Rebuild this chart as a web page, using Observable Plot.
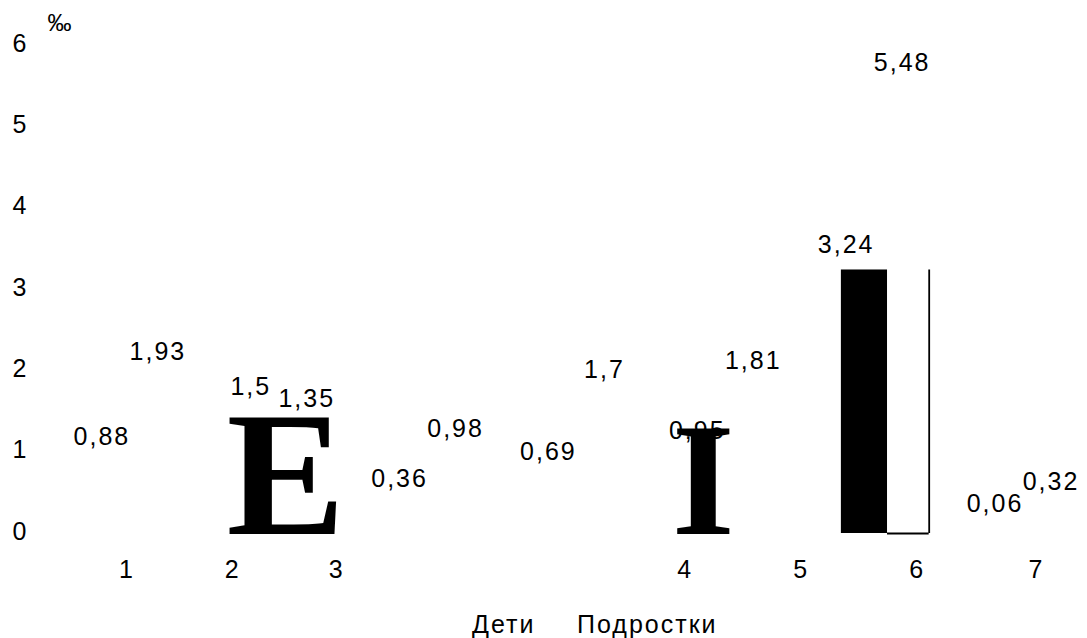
<!DOCTYPE html>
<html>
<head>
<meta charset="utf-8">
<script src="https://cdn.jsdelivr.net/npm/d3@7"></script>
<script src="https://cdn.jsdelivr.net/npm/@observablehq/plot@0.6"></script>
<style>
  body { margin: 0; background: #fff; }
  svg { display: block; }
  svg text { letter-spacing: 2px; }
  #legend { position: relative; height: 38px; font-family: "Liberation Sans", Arial, sans-serif;
            font-size: 25px; letter-spacing: 2px; color: #000; line-height: 25px; }
  #legend span { position: absolute; top: 12px; white-space: nowrap; }
</style>
</head>
<body>
<div id="chart"></div>
<div id="legend"></div>
<script>
// ---- data ----
const categories = [1, 2, 3, 4, 5, 6, 7];
const seriesNames = ["Дети", "Подростки"];
const deti      = [0.88, 1.5, 0.36, 0.69, 0.95, 3.24, 0.06];
const podrostki = [1.93, 1.35, 0.98, 1.7, 1.81, 5.48, 0.32];
const yTicks = [0, 1, 2, 3, 4, 5, 6];
const xTickLabels = ["1", "2", "3", "4", "5", "6", "7"];
const xTickAt = [0.98, 1.69, 2.39, 4.73, 5.51, 6.29, 7.09];
const unitLabel = "‰";
const barGroups = [6];          // group whose bar outline survives
const glyphChars = ["E", "I"];   // stray glyphs in the figure
const glyphGroups = [2, 5];

// ---- build ----
const rows = categories.map((c, i) => ({group: c, deti: deti[i], podr: podrostki[i]}));
const bars = rows.filter(d => barGroups.includes(d.group));
const glyphs = glyphChars.map((c, i) => ({ch: c, group: glyphGroups[i]}));
const fmt = v => String(v).replace(".", ",");
const sans = "'Liberation Sans', Arial, Helvetica, sans-serif";
const serif = "'Liberation Serif', 'Times New Roman', serif";
const FS = 25;

const chart = Plot.plot({
  width: 1087,
  height: 600,
  marginTop: 45,
  marginBottom: 67,
  marginLeft: 55,
  marginRight: 5,
  x: {domain: [0.5, 7.4], axis: null},
  y: {domain: [0, 6], axis: null},
  style: {fontFamily: sans, fontSize: FS + "px", color: "black", background: "white"},
  marks: [
    // surviving bar of group 6
    Plot.rectY(bars, {x1: d => d.group - 0.22, x2: d => d.group + 0.09, y1: 0, y2: d => d.deti, fill: "black"}),
    Plot.ruleX(bars, {x: d => d.group + 0.37, y1: 0, y2: d => d.deti, stroke: "black", strokeWidth: 1.8}),
    Plot.ruleY(bars, {y: 0, x1: d => d.group + 0.09, x2: d => d.group + 0.37, stroke: "black", strokeWidth: 1.8}),
    // stray glyphs
    Plot.text(glyphs.filter(d => d.ch === "E"), {x: "group", y: 0, text: "ch", fontFamily: serif, fontWeight: "bold",
      fontSize: 178, lineAnchor: "bottom", textAnchor: "middle", dx: 8, fill: "black"}),
    Plot.text(glyphs.filter(d => d.ch === "I"), {x: "group", y: 0, text: "ch", fontFamily: serif, fontWeight: "bold",
      fontSize: 162, lineAnchor: "bottom", textAnchor: "middle", dx: -21, fill: "black"}),
    // value labels
    Plot.text(rows, {x: "group", y: "deti", text: d => fmt(d.deti), dx: -28, dy: -25,
      fontFamily: sans, fontSize: FS, lineAnchor: "middle", fill: "black"}),
    Plot.text(rows, {x: "group", y: "podr", text: d => fmt(d.podr), dx: 28, dy: -25,
      fontFamily: sans, fontSize: FS, lineAnchor: "middle", fill: "black"}),
    // y tick labels
    Plot.text(yTicks, {y: d => d, text: d => String(d), frameAnchor: "left", textAnchor: "end",
      dx: -27, dy: -2, fontFamily: sans, fontSize: FS, lineAnchor: "middle", fill: "black"}),
    // x tick labels
    Plot.text(xTickLabels, {x: (d, i) => xTickAt[i], text: d => d, frameAnchor: "bottom", lineAnchor: "top",
      dy: 27, fontFamily: sans, fontSize: FS, fill: "black"}),
    // unit
    Plot.text([unitLabel], {text: d => d, frameAnchor: "top-left", textAnchor: "middle", lineAnchor: "middle",
      dx: 5, dy: -22, fontFamily: sans, fontSize: 24, fill: "black"})
  ]
});
document.getElementById("chart").appendChild(chart);

// legend (text only, as in the figure)
const legend = document.getElementById("legend");
const legendLeft = [472, 577];
seriesNames.forEach((name, i) => {
  const s = document.createElement("span");
  s.textContent = name;
  s.style.left = legendLeft[i] + "px";
  legend.appendChild(s);
});
</script>
</body>
</html>
